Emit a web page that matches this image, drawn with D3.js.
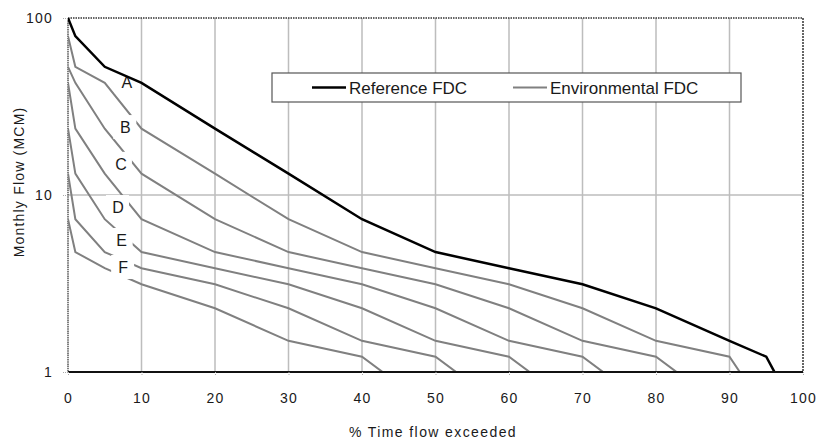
<!DOCTYPE html>
<html>
<head>
<meta charset="utf-8">
<title>Flow duration curves</title>
<script src="https://cdn.jsdelivr.net/npm/d3@7"></script>
<style>
    body { margin: 0; background: #fff; }
    text { font-family: "Liberation Sans", Arial, sans-serif; fill: #1a1a1a; }
</style>
</head>
<body>
<svg id="chart" width="820" height="439"></svg>
<script>
    // % time exceeded at which each curve is given
    const percent = [0, 1, 5, 10, 20, 30, 40, 50, 60, 70, 80, 90, 95, 99]

    // Reference FDC (MCM)
    const referenceFDC = [100, 79, 53, 43, 23.7, 13.2, 7.3, 4.76, 3.86, 3.13, 2.29, 1.5, 1.22, 0.6]

    // Environmental FDCs, classes A..F (same percent points, shorter lists)
    const envA = [79, 53, 43, 23.7, 13.2, 7.3, 4.76, 3.86, 3.13, 2.29, 1.5, 1.22, 0.6]
    const envB = [53, 43, 23.7, 13.2, 7.3, 4.76, 3.86, 3.13, 2.29, 1.5, 1.22, 0.6]
    const envC = [43, 23.7, 13.2, 7.3, 4.76, 3.86, 3.13, 2.29, 1.5, 1.22, 0.6]
    const envD = [23.7, 13.2, 7.3, 4.76, 3.86, 3.13, 2.29, 1.5, 1.22, 0.6]
    const envE = [13.2, 7.3, 4.76, 3.86, 3.13, 2.29, 1.5, 1.22, 0.6]
    const envF = [7.3, 4.76, 3.86, 3.13, 2.29, 1.5, 1.22, 0.6]

    const classNames = ["A", "B", "C", "D", "E", "F"]
    const classLabelX = [8.0, 7.8, 7.2, 6.8, 7.3, 7.5]
    const classLabelY = [43.6, 24.2, 15.0, 8.55, 5.57, 3.92]

    const xTicks = [0, 10, 20, 30, 40, 50, 60, 70, 80, 90, 100]
    const yTicks = [1, 10, 100]

    const margin = { top: 18, right: 17, bottom: 67, left: 68 }
    const width = 820 - margin.left - margin.right
    const height = 439 - margin.top - margin.bottom

    const svg = d3.select('#chart')
    const chart = svg.append('g')
        .attr('transform', 'translate(' + margin.left + ',' + margin.top + ')')

    const x = d3.scaleLinear().domain([0, 100]).range([0, width])
    const y = d3.scaleLog().domain([1, 100]).range([height, 0])

    chart.append('clipPath').attr('id', 'plot')
        .append('rect').attr('width', width).attr('height', height)

    // grid
    chart.append('g')
        .selectAll('line').data(xTicks.slice(1, -1)).enter().append('line')
        .attr('x1', d => x(d)).attr('x2', d => x(d))
        .attr('y1', 0).attr('y2', height)
        .attr('stroke', '#bdbdbd').attr('stroke-width', 1.5)
    chart.append('line')
        .attr('x1', 0).attr('x2', width)
        .attr('y1', y(10)).attr('y2', y(10))
        .attr('stroke', '#bdbdbd').attr('stroke-width', 1.5)

    // frame: dotted top / right / left, solid bottom
    chart.append('line').attr('x1', 0).attr('x2', width).attr('y1', 0).attr('y2', 0)
        .attr('stroke', '#333').attr('stroke-width', 1.5).attr('stroke-dasharray', '1.5,1')
    chart.append('line').attr('x1', width).attr('x2', width).attr('y1', 0).attr('y2', height)
        .attr('stroke', '#333').attr('stroke-width', 1.5).attr('stroke-dasharray', '2,1')
    chart.append('line').attr('x1', 0).attr('x2', 0).attr('y1', 0).attr('y2', height)
        .attr('stroke', '#555').attr('stroke-width', 1.5).attr('stroke-dasharray', '1.5,0.7')

    const line = d3.line()
        .x((d, i) => x(percent[i]))
        .y(d => y(d))

    const envCurves = chart.append('g').attr('clip-path', 'url(#plot)')

    const envSeries = [envA, envB, envC, envD, envE, envF]
    envCurves.selectAll('path').data(envSeries).enter().append('path')
        .attr('d', line)
        .attr('fill', 'none')
        .attr('stroke', '#808080')
        .attr('stroke-width', 2)

    // class labels sit on white boxes that hide the gray curve beneath
    const labels = chart.append('g')
    classNames.forEach((name, i) => {
        const cx = x(classLabelX[i]), cy = y(classLabelY[i])
        labels.append('rect')
            .attr('x', cx - 12).attr('y', cy - 12)
            .attr('width', 23).attr('height', 24)
            .attr('fill', '#fff')
        labels.append('text')
            .attr('x', cx).attr('y', cy)
            .attr('dy', '0.36em')
            .attr('text-anchor', 'middle')
            .attr('font-size', 16)
            .text(name)
    })

    // reference curve stays on top of the label boxes
    chart.append('g').attr('clip-path', 'url(#plot)')
        .append('path')
        .attr('d', line(referenceFDC))
        .attr('fill', 'none')
        .attr('stroke', '#000')
        .attr('stroke-width', 2.5)

    chart.append('line').attr('x1', 0).attr('x2', width)
        .attr('y1', height).attr('y2', height)
        .attr('stroke', '#111').attr('stroke-width', 2)

    // axes
    const xAxis = d3.axisBottom(x).tickValues(xTicks).tickSize(4).tickPadding(17)
    chart.append('g')
        .attr('transform', 'translate(0,' + height + ')')
        .call(xAxis)
        .call(g => g.select('.domain').remove())
        .call(g => g.selectAll('line').attr('stroke', '#aaa').attr('stroke-dasharray', '1,1'))
        .call(g => g.selectAll('text')
            .attr('font-size', 14)
            .attr('letter-spacing', 1.2)
            .attr('fill', '#222')
            .attr('font-family', '"Liberation Sans", Arial, sans-serif'))

    const yAxis = d3.axisLeft(y).tickValues(yTicks).tickFormat(d3.format('d')).tickSize(5).tickPadding(10)
    chart.append('g')
        .call(yAxis)
        .call(g => g.select('.domain').remove())
        .call(g => g.selectAll('line').attr('stroke', '#aaa').attr('stroke-dasharray', '1,1'))
        .call(g => g.selectAll('text')
            .attr('font-size', 14)
            .attr('letter-spacing', 1.2)
            .attr('fill', '#222')
            .attr('font-family', '"Liberation Sans", Arial, sans-serif'))

    // axis titles
    svg.append('text')
        .attr('transform', 'translate(433,437)')
        .attr('text-anchor', 'middle')
        .attr('font-size', 14)
        .attr('letter-spacing', 1.4)
        .text('% Time flow exceeded')
    svg.append('text')
        .attr('transform', 'translate(24,182) rotate(-90)')
        .attr('text-anchor', 'middle')
        .attr('font-size', 14)
        .attr('letter-spacing', 1.2)
        .text('Monthly Flow (MCM)')

    // legend
    const legend = svg.append('g').attr('transform', 'translate(272,73)')
    legend.append('rect')
        .attr('width', 469).attr('height', 29)
        .attr('fill', '#fff').attr('stroke', '#555').attr('stroke-width', 1.2)
    const legendItems = [
        { name: 'Reference FDC', color: '#000', w: 2.5, x0: 40 },
        { name: 'Environmental FDC', color: '#808080', w: 2, x0: 241 }
    ]
    legendItems.forEach(d => {
        legend.append('line')
            .attr('x1', d.x0).attr('x2', d.x0 + 34)
            .attr('y1', 14.5).attr('y2', 14.5)
            .attr('stroke', d.color).attr('stroke-width', d.w)
        legend.append('text')
            .attr('x', d.x0 + 37).attr('y', 14.5)
            .attr('dy', '0.36em')
            .attr('font-size', 17)
            .text(d.name)
    })
</script>
</body>
</html>
